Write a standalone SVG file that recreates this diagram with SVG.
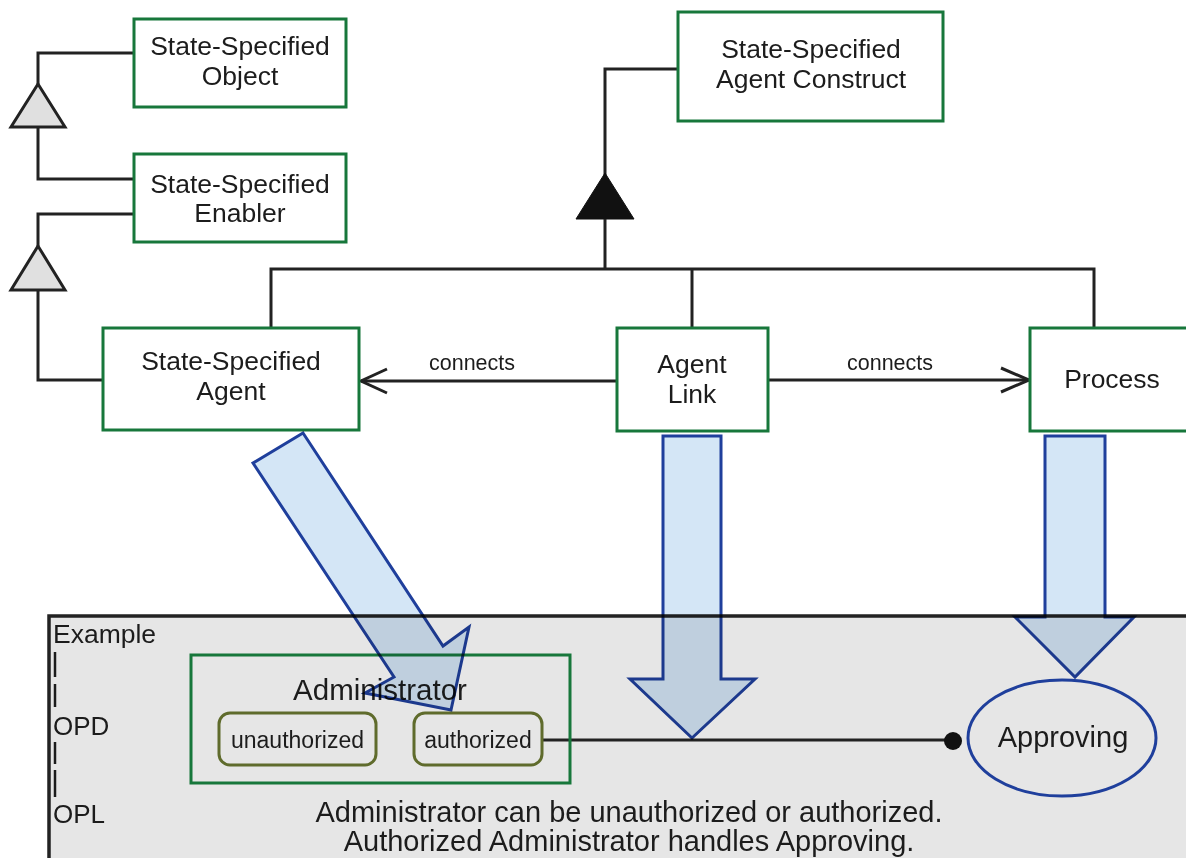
<svg xmlns="http://www.w3.org/2000/svg" width="1186" height="858" viewBox="0 0 1186 858">
<style>
.box{fill:#fff;stroke:#17773b;stroke-width:3}
.t{font-family:"Liberation Sans",Arial,sans-serif;fill:#1c1c1c;text-anchor:middle}
.l{font-family:"Liberation Sans",Arial,sans-serif;fill:#1c1c1c}
.ln{fill:none;stroke:#222;stroke-width:3}
.state{fill:none;stroke:#5f6b2c;stroke-width:3}
.big{fill:#d4e6f6;stroke:#1f3f9c;stroke-width:3;stroke-linejoin:miter;mix-blend-mode:multiply}
</style>
<rect width="1186" height="858" fill="#fff"/>
<g id="example-panel">
<rect x="49" y="616" width="1150" height="260" fill="#e6e6e6" stroke="#222" stroke-width="3.5"/>
<text class="l" x="53" y="643" font-size="26.5">Example</text>
<line x1="55" y1="652" x2="55" y2="677" stroke="#1c1c1c" stroke-width="2.5"/>
<line x1="55" y1="684" x2="55" y2="707" stroke="#1c1c1c" stroke-width="2.5"/>
<text class="l" x="53" y="735" font-size="26">OPD</text>
<line x1="55" y1="742" x2="55" y2="764" stroke="#1c1c1c" stroke-width="2.5"/>
<line x1="55" y1="770" x2="55" y2="797" stroke="#1c1c1c" stroke-width="2.5"/>
<text class="l" x="53" y="823" font-size="26">OPL</text>
<text class="t" x="629" y="822" font-size="29">Administrator can be unauthorized or authorized.</text>
<text class="t" x="629" y="851" font-size="29">Authorized Administrator handles Approving.</text>
</g>
<g id="connectors">
<polyline class="ln" points="134,53 38,53 38,84"/>
<polyline class="ln" points="38,127 38,179 134,179"/>
<polygon points="38,84 11,127 65,127" fill="#e0e0e0" stroke="#222" stroke-width="3"/>
<polyline class="ln" points="134,214 38,214 38,246"/>
<polyline class="ln" points="38,290 38,380 103,380"/>
<polygon points="38,246 11,290 65,290" fill="#e0e0e0" stroke="#222" stroke-width="3"/>
<polyline class="ln" points="678,69 605,69 605,175"/>
<polygon points="605,173 576,219 634,219" fill="#111" stroke="#111" stroke-width="1"/>
<line class="ln" x1="605" y1="219" x2="605" y2="269"/>
<polyline class="ln" points="271,328 271,269 1094,269 1094,328"/>
<line class="ln" x1="692" y1="269" x2="692" y2="328"/>
<line class="ln" x1="617" y1="381" x2="361" y2="381"/>
<polyline class="ln" points="387,369 361,381 387,393"/>
<text class="t" x="472" y="370" font-size="21.5">connects</text>
<line class="ln" x1="768" y1="380" x2="1029" y2="380"/>
<polyline class="ln" points="1001,368 1029,380 1001,392"/>
<text class="t" x="890" y="370" font-size="21.5">connects</text>
<line class="ln" x1="542" y1="740" x2="953" y2="740"/>
<circle cx="953" cy="741" r="9" fill="#111"/>
</g>
<g id="node-ss-object">
<rect class="box" x="134" y="19" width="212" height="88"/>
<text class="t" x="240" y="55" font-size="26.5">State-Specified</text>
<text class="t" x="240" y="85" font-size="26.5">Object</text>
</g>
<g id="node-ss-enabler">
<rect class="box" x="134" y="154" width="212" height="88"/>
<text class="t" x="240" y="193" font-size="26.5">State-Specified</text>
<text class="t" x="240" y="222" font-size="26.5">Enabler</text>
</g>
<g id="node-ss-agent-construct">
<rect class="box" x="678" y="12" width="265" height="109"/>
<text class="t" x="811" y="58" font-size="26.5">State-Specified</text>
<text class="t" x="811" y="88" font-size="26.5">Agent Construct</text>
</g>
<g id="node-ss-agent">
<rect class="box" x="103" y="328" width="256" height="102"/>
<text class="t" x="231" y="370" font-size="26.5">State-Specified</text>
<text class="t" x="231" y="400" font-size="26.5">Agent</text>
</g>
<g id="node-agent-link">
<rect class="box" x="617" y="328" width="151" height="103"/>
<text class="t" x="692" y="373" font-size="26.5">Agent</text>
<text class="t" x="692" y="403" font-size="26.5">Link</text>
</g>
<g id="node-process">
<rect class="box" x="1030" y="328" width="170" height="103"/>
<text class="t" x="1112" y="388" font-size="26.5">Process</text>
</g>
<g id="node-administrator">
<rect x="191" y="655" width="379" height="128" fill="none" stroke="#17773b" stroke-width="3"/>
<text class="t" x="380" y="700" font-size="29.5">Administrator</text>
<rect class="state" x="219" y="713" width="157" height="52" rx="11"/>
<text class="t" x="297.5" y="748" font-size="23">unauthorized</text>
<rect class="state" x="414" y="713" width="128" height="52" rx="11"/>
<text class="t" x="478" y="748" font-size="23">authorized</text>
</g>
<g id="node-approving">
<ellipse cx="1062" cy="738" rx="94" ry="58" fill="none" stroke="#1f3f9c" stroke-width="3"/>
<text class="t" x="1063" y="747" font-size="29">Approving</text>
</g>
<g id="refinement-arrows">
<polygon class="big" points="303,433 443,646 469,627 451,710 365,693 394,677 253,463"/>
<polygon class="big" points="663,436 721,436 721,679 755,679 692,738 630,679 663,679"/>
<polygon class="big" points="1045,436 1105,436 1105,617 1134,617 1075,677 1015,617 1045,617"/>
</g>
</svg>
